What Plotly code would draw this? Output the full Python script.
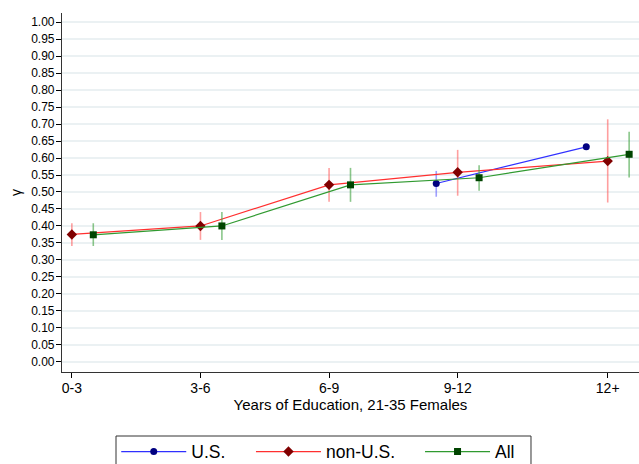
import plotly.graph_objects as go

# Education bins and their midpoints (years)
categories = ["0-3", "3-6", "6-9", "9-12", "12+"]
bin_mid = [1.5, 4.5, 7.5, 10.5, 14.0]

# gamma estimates with confidence bounds, by group
us_idx = [3, 4]
us_gamma = [0.525, 0.633]
us_lo = [0.486, 0.624]
us_hi = [0.562, 0.641]

non_us_gamma = [0.375, 0.400, 0.521, 0.558, 0.591]
non_us_lo = [0.341, 0.359, 0.471, 0.489, 0.469]
non_us_hi = [0.408, 0.441, 0.571, 0.624, 0.714]

all_gamma = [0.374, 0.400, 0.521, 0.542, 0.611]
all_lo = [0.341, 0.359, 0.471, 0.504, 0.543]
all_hi = [0.408, 0.441, 0.571, 0.579, 0.677]

y_ticks = [round(i * 0.05, 2) for i in range(21)]

# horizontal dodge so the three groups don't overlap
dodge = {"us": -0.5, "non_us": 0.0, "all": 0.5}


def series(name, legend, xs, ys, lo, hi, line_col, marker_col, err_col, symbol, size):
    return go.Scatter(
        x=xs, y=ys, name=name, legend=legend, mode="lines+markers",
        line=dict(color=line_col, width=1.2),
        marker=dict(color=marker_col, symbol=symbol, size=size, line=dict(width=0)),
        error_y=dict(type="data", symmetric=False,
                     array=[h - v for h, v in zip(hi, ys)],
                     arrayminus=[v - l for l, v in zip(lo, ys)],
                     color=err_col, thickness=1.6, width=0),
    )


fig = go.Figure()
fig.add_trace(series("U.S.", "legend", [bin_mid[i] + dodge["us"] for i in us_idx], us_gamma, us_lo, us_hi,
                     "#3030ff", "#000080", "rgba(80,80,255,0.55)", "circle", 7))
fig.add_trace(series("non-U.S.", "legend2", [m + dodge["non_us"] for m in bin_mid], non_us_gamma, non_us_lo, non_us_hi,
                     "#ff3030", "#800000", "rgba(255,80,80,0.55)", "diamond", 8))
fig.add_trace(series("All", "legend3", [m + dodge["all"] for m in bin_mid], all_gamma, all_lo, all_hi,
                     "#309a30", "#004400", "rgba(60,160,60,0.6)", "square", 7))

# one legend per series, laid out in a row inside a shared frame
key_style = dict(orientation="h", y=-0.222, yanchor="middle", xanchor="left",
                 font=dict(size=17.5), itemwidth=65, bgcolor="rgba(0,0,0,0)")

fig.update_layout(
    width=639, height=464,
    margin=dict(l=62, r=0, t=13, b=92, autoexpand=False),
    paper_bgcolor="white", plot_bgcolor="white",
    font=dict(family="Liberation Sans, Arial, sans-serif", color="black"),
    xaxis=dict(
        range=[1.27, 14.73], automargin=False,
        tickvals=bin_mid, ticktext=categories,
        ticks="outside", ticklen=5, tickcolor="black",
        tickfont=dict(size=14), ticklabelstandoff=-2,
        showgrid=False, zeroline=False,
        showline=True, linecolor="#333", linewidth=1.2,
        title=dict(text="Years of Education, 21-35 Females", font=dict(size=15), standoff=0),
    ),
    yaxis=dict(
        range=[-0.03, 1.027], automargin=False,
        tickvals=y_ticks, tickformat=".2f",
        ticks="outside", ticklen=5, tickcolor="black",
        tickfont=dict(size=12), ticklabelstandoff=-1,
        showgrid=True, gridcolor="#ebf1f3", gridwidth=1.5,
        zeroline=False,
        showline=True, linecolor="#333", linewidth=1.2,
        title=dict(text="γ", font=dict(size=14), standoff=6),
    ),
    legend=dict(x=0.094, **key_style),
    legend2=dict(x=0.3275, **key_style),
    legend3=dict(x=0.6205, **key_style),
    shapes=[dict(type="rect", xref="paper", yref="paper",
                 x0=0.0936, x1=0.8128, y0=-0.1783, y1=-0.30,
                 line=dict(color="#333", width=1), fillcolor="rgba(0,0,0,0)")],
    showlegend=True,
)

fig.write_html("out.html")
